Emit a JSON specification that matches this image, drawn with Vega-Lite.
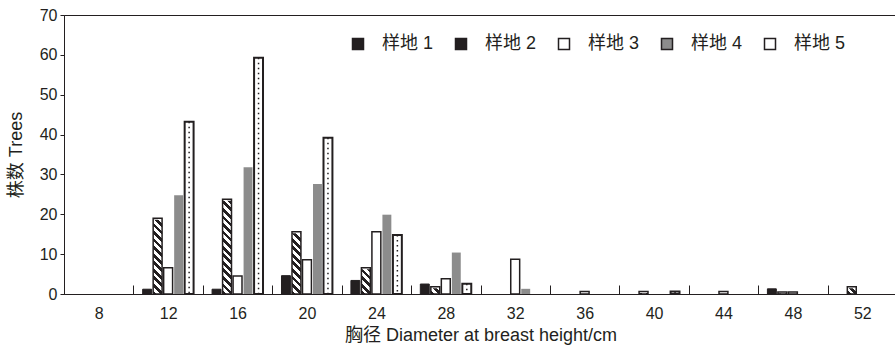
{
  "$schema": "https://vega.github.io/schema/vega-lite/v6.json",
  "width": 833,
  "height": 279,
  "autosize": "none",
  "padding": {"left": 64, "top": 15, "right": 0, "bottom": 51},
  "background": "#ffffff",
  "config": {
    "font": "Liberation Sans, Noto Sans CJK SC",
    "view": {"stroke": "#231f20", "strokeWidth": 1},
    "axis": {
      "domainColor": "#231f20",
      "tickColor": "#231f20",
      "labelColor": "#231f20",
      "titleColor": "#231f20",
      "labelFontSize": 16,
      "titleFontSize": 18,
      "titleFontWeight": "normal",
      "labelOverlap": false,
      "grid": false
    },
    "axisY": {"tickCount": 10, "tickSize": 4, "labelPadding": 3, "titlePadding": 14}
  },
  "data": {
    "values": [
      {"d": "8", "plot": "样地 1", "v": 0}, {"d": "8", "plot": "样地 2", "v": 0}, {"d": "8", "plot": "样地 3", "v": 0}, {"d": "8", "plot": "样地 4", "v": 0}, {"d": "8", "plot": "样地 5", "v": 0},
      {"d": "12", "plot": "样地 1", "v": 1.2}, {"d": "12", "plot": "样地 2", "v": 19}, {"d": "12", "plot": "样地 3", "v": 6.6}, {"d": "12", "plot": "样地 4", "v": 24.8}, {"d": "12", "plot": "样地 5", "v": 43.2},
      {"d": "16", "plot": "样地 1", "v": 1.2}, {"d": "16", "plot": "样地 2", "v": 23.8}, {"d": "16", "plot": "样地 3", "v": 4.5}, {"d": "16", "plot": "样地 4", "v": 31.8}, {"d": "16", "plot": "样地 5", "v": 59.3},
      {"d": "20", "plot": "样地 1", "v": 4.6}, {"d": "20", "plot": "样地 2", "v": 15.6}, {"d": "20", "plot": "样地 3", "v": 8.6}, {"d": "20", "plot": "样地 4", "v": 27.6}, {"d": "20", "plot": "样地 5", "v": 39.2},
      {"d": "24", "plot": "样地 1", "v": 3.4}, {"d": "24", "plot": "样地 2", "v": 6.6}, {"d": "24", "plot": "样地 3", "v": 15.6}, {"d": "24", "plot": "样地 4", "v": 19.9}, {"d": "24", "plot": "样地 5", "v": 14.8},
      {"d": "28", "plot": "样地 1", "v": 2.5}, {"d": "28", "plot": "样地 2", "v": 1.8}, {"d": "28", "plot": "样地 3", "v": 3.8}, {"d": "28", "plot": "样地 4", "v": 10.4}, {"d": "28", "plot": "样地 5", "v": 2.6},
      {"d": "32", "plot": "样地 1", "v": 0}, {"d": "32", "plot": "样地 2", "v": 0}, {"d": "32", "plot": "样地 3", "v": 8.7}, {"d": "32", "plot": "样地 4", "v": 1.3}, {"d": "32", "plot": "样地 5", "v": 0},
      {"d": "36", "plot": "样地 1", "v": 0}, {"d": "36", "plot": "样地 2", "v": 0}, {"d": "36", "plot": "样地 3", "v": 0.6}, {"d": "36", "plot": "样地 4", "v": 0}, {"d": "36", "plot": "样地 5", "v": 0},
      {"d": "40", "plot": "样地 1", "v": 0}, {"d": "40", "plot": "样地 2", "v": 0.6}, {"d": "40", "plot": "样地 3", "v": 0}, {"d": "40", "plot": "样地 4", "v": 0}, {"d": "40", "plot": "样地 5", "v": 0.6},
      {"d": "44", "plot": "样地 1", "v": 0}, {"d": "44", "plot": "样地 2", "v": 0}, {"d": "44", "plot": "样地 3", "v": 0.6}, {"d": "44", "plot": "样地 4", "v": 0}, {"d": "44", "plot": "样地 5", "v": 0},
      {"d": "48", "plot": "样地 1", "v": 1.3}, {"d": "48", "plot": "样地 2", "v": 0.5}, {"d": "48", "plot": "样地 3", "v": 0.5}, {"d": "48", "plot": "样地 4", "v": 0}, {"d": "48", "plot": "样地 5", "v": 0},
      {"d": "52", "plot": "样地 1", "v": 0}, {"d": "52", "plot": "样地 2", "v": 1.8}, {"d": "52", "plot": "样地 3", "v": 0}, {"d": "52", "plot": "样地 4", "v": 0}, {"d": "52", "plot": "样地 5", "v": 0}
    ]
  },
  "encoding": {
    "x": {
      "field": "d",
      "type": "ordinal",
      "sort": null,
      "scale": {"domain": ["8", "12", "16", "20", "24", "28", "32", "36", "40", "44", "48", "52"], "paddingInner": 0, "paddingOuter": 0},
      "axis": {
        "title": "胸径 Diameter at breast height/cm",
        "labelAngle": 0,
        "tickBand": "extent",
        "tickSize": -9,
        "labelPadding": 20,
        "titlePadding": 5
      }
    },
    "xOffset": {
      "field": "plot",
      "type": "nominal",
      "scale": {"domain": ["样地 1", "样地 2", "样地 3", "样地 4", "样地 5"], "paddingInner": 0.15, "paddingOuter": 0.88}
    }
  },
  "layer": [
    {
      "transform": [{"filter": "datum.plot === '样地 2' && datum.v > 0"}],
      "mark": {
        "type": "bar",
        "fill": {
          "gradient": "linear", "x1": 0, "y1": 1, "x2": 0.0798, "y2": -0.0687,
          "stops": [
            {"offset": 0, "color": "#231f20"}, {"offset": 0.0294, "color": "#231f20"}, {"offset": 0.0294, "color": "#ffffff"}, {"offset": 0.0588, "color": "#ffffff"},
            {"offset": 0.0588, "color": "#231f20"}, {"offset": 0.0882, "color": "#231f20"}, {"offset": 0.0882, "color": "#ffffff"}, {"offset": 0.1176, "color": "#ffffff"},
            {"offset": 0.1176, "color": "#231f20"}, {"offset": 0.1471, "color": "#231f20"}, {"offset": 0.1471, "color": "#ffffff"}, {"offset": 0.1765, "color": "#ffffff"},
            {"offset": 0.1765, "color": "#231f20"}, {"offset": 0.2059, "color": "#231f20"}, {"offset": 0.2059, "color": "#ffffff"}, {"offset": 0.2353, "color": "#ffffff"},
            {"offset": 0.2353, "color": "#231f20"}, {"offset": 0.2647, "color": "#231f20"}, {"offset": 0.2647, "color": "#ffffff"}, {"offset": 0.2941, "color": "#ffffff"},
            {"offset": 0.2941, "color": "#231f20"}, {"offset": 0.3235, "color": "#231f20"}, {"offset": 0.3235, "color": "#ffffff"}, {"offset": 0.3529, "color": "#ffffff"},
            {"offset": 0.3529, "color": "#231f20"}, {"offset": 0.3824, "color": "#231f20"}, {"offset": 0.3824, "color": "#ffffff"}, {"offset": 0.4118, "color": "#ffffff"},
            {"offset": 0.4118, "color": "#231f20"}, {"offset": 0.4412, "color": "#231f20"}, {"offset": 0.4412, "color": "#ffffff"}, {"offset": 0.4706, "color": "#ffffff"},
            {"offset": 0.4706, "color": "#231f20"}, {"offset": 0.5, "color": "#231f20"}, {"offset": 0.5, "color": "#ffffff"}, {"offset": 0.5294, "color": "#ffffff"},
            {"offset": 0.5294, "color": "#231f20"}, {"offset": 0.5588, "color": "#231f20"}, {"offset": 0.5588, "color": "#ffffff"}, {"offset": 0.5882, "color": "#ffffff"},
            {"offset": 0.5882, "color": "#231f20"}, {"offset": 0.6176, "color": "#231f20"}, {"offset": 0.6176, "color": "#ffffff"}, {"offset": 0.6471, "color": "#ffffff"},
            {"offset": 0.6471, "color": "#231f20"}, {"offset": 0.6765, "color": "#231f20"}, {"offset": 0.6765, "color": "#ffffff"}, {"offset": 0.7059, "color": "#ffffff"},
            {"offset": 0.7059, "color": "#231f20"}, {"offset": 0.7353, "color": "#231f20"}, {"offset": 0.7353, "color": "#ffffff"}, {"offset": 0.7647, "color": "#ffffff"},
            {"offset": 0.7647, "color": "#231f20"}, {"offset": 0.7941, "color": "#231f20"}, {"offset": 0.7941, "color": "#ffffff"}, {"offset": 0.8235, "color": "#ffffff"},
            {"offset": 0.8235, "color": "#231f20"}, {"offset": 0.8529, "color": "#231f20"}, {"offset": 0.8529, "color": "#ffffff"}, {"offset": 0.8824, "color": "#ffffff"},
            {"offset": 0.8824, "color": "#231f20"}, {"offset": 0.9118, "color": "#231f20"}, {"offset": 0.9118, "color": "#ffffff"}, {"offset": 0.9412, "color": "#ffffff"},
            {"offset": 0.9412, "color": "#231f20"}, {"offset": 0.9706, "color": "#231f20"}, {"offset": 0.9706, "color": "#ffffff"}, {"offset": 1, "color": "#ffffff"}
          ]
        }
      },
      "encoding": {
        "y": {
          "datum": 0,
          "type": "quantitative",
          "scale": {"domain": [0, 70], "nice": false},
          "axis": {"title": "株数 Trees", "values": [0, 10, 20, 30, 40, 50, 60, 70]}
        },
        "y2": {"datum": 30}
      }
    },
    {
      "transform": [{"filter": "datum.plot === '样地 2' && datum.v > 0"}],
      "mark": {"type": "bar", "fill": "#ffffff", "stroke": "#ffffff", "strokeWidth": 3},
      "encoding": {
        "y": {
          "field": "v",
          "type": "quantitative",
          "axis": {"title": "株数 Trees", "values": [0, 10, 20, 30, 40, 50, 60, 70]}
        },
        "y2": {"datum": 30}
      }
    },
    {
      "transform": [{"filter": "datum.v > 0"}],
      "mark": {"type": "bar"},
      "encoding": {
        "y": {
          "field": "v",
          "type": "quantitative",
          "stack": null,
          "axis": {"title": "株数 Trees", "values": [0, 10, 20, 30, 40, 50, 60, 70]}
        },
        "fill": {
          "condition": {"test": "datum.plot === '样地 2'", "value": "transparent"},
          "field": "plot",
          "type": "nominal",
          "scale": {
            "domain": ["样地 1", "样地 2", "样地 3", "样地 4", "样地 5"],
            "range": ["#231f20", "#231f20", "#ffffff", "#8c8c8c", "#ffffff"]
          },
          "legend": {
            "orient": "none",
            "legendX": 285,
            "legendY": 20,
            "direction": "horizontal",
            "title": null,
            "symbolType": "square",
            "symbolSize": 121,
            "labelFontSize": 18,
            "labelColor": "#231f20",
            "labelOffset": 15,
            "columnPadding": 18,
            "encode": {
              "symbols": {
                "update": {
                  "shape": [
                    {"test": "datum.value === '样地 2'", "value": "M-1,-1L1,-1L1,1L-1,1ZM-0.35,-0.75L0.75,0.35L0.75,-0.75ZM-0.75,-0.35L-0.75,0.75L0.35,0.75Z"},
                    {"value": "square"}
                  ],
                  "stroke": [
                    {"test": "datum.value === '样地 4'", "value": "#8c8c8c"},
                    {"value": "#231f20"}
                  ],
                  "strokeWidth": [
                    {"test": "datum.value === '样地 2'", "value": 0.4},
                    {"value": 1.3}
                  ],
                  "strokeDash": [
                    {"test": "datum.value === '样地 5'", "value": [2, 1.5]},
                    {"value": [1, 0]}
                  ],
                  "opacity": {"value": 1}
                }
              }
            }
          }
        },
        "stroke": {
          "condition": {"test": "datum.plot === '样地 4'", "value": "transparent"},
          "value": "#231f20"
        },
        "strokeWidth": {
          "condition": [
            {"test": "datum.plot === '样地 5'", "value": 2},
            {"test": "datum.plot === '样地 1'", "value": 1}
          ],
          "value": 1.5
        }
      }
    },
    {
      "transform": [{"filter": "datum.plot === '样地 5' && datum.v > 0"}],
      "mark": {"type": "rule", "stroke": "#231f20", "strokeWidth": 1.5, "strokeDash": [1.5, 3.5]},
      "encoding": {
        "y": {
          "field": "v",
          "type": "quantitative",
          "axis": {"title": "株数 Trees", "values": [0, 10, 20, 30, 40, 50, 60, 70]}
        },
        "y2": {"datum": 0}
      }
    }
  ]
}
